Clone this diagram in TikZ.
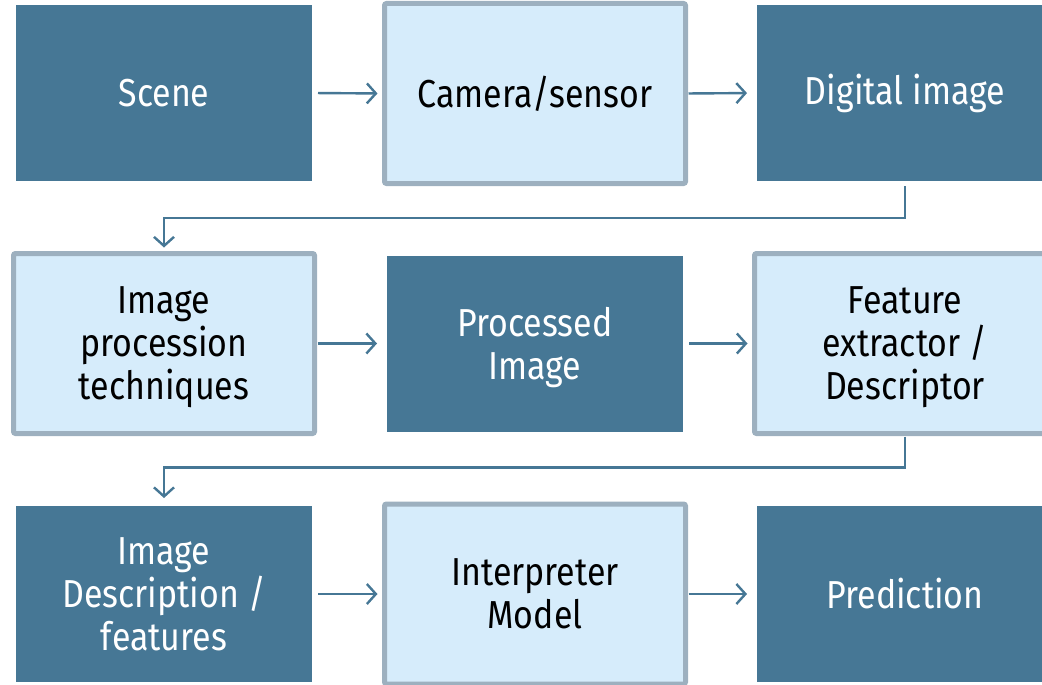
\documentclass[tikz,border=0pt]{standalone}
\usepackage{fontspec}
\setmainfont{Fira Sans}[FakeStretch=0.87]
\usetikzlibrary{arrows.meta}
\definecolor{dk}{HTML}{467795}
\definecolor{lt}{HTML}{D6ECFB}
\definecolor{bd}{HTML}{9DB0BF}
\begin{document}
\begin{tikzpicture}[x=1pt,y=-1pt,
  dark/.style={fill=dk,draw=none,minimum width=296pt,minimum height=176pt,inner sep=0pt,outer sep=0pt,text=white,align=center,font=\fontsize{39}{43}\selectfont},
  light/.style={fill=lt,draw=bd,line width=5pt,rounded corners=2pt,minimum width=301pt,minimum height=180pt,inner sep=0pt,outer sep=0pt,text=black,align=center,font=\fontsize{39}{43}\selectfont},
  nodepth/.style={text depth=0pt},
  arr/.style={draw=dk,line width=2.4pt,-{Straight Barb[length=9pt,width=20pt,line width=2.4pt]}},
  elb/.style={draw=dk,line width=2.4pt,-{Straight Barb[length=9pt,width=20pt,line width=2.4pt]},rounded corners=0pt}]
\useasboundingbox (0,0) rectangle (1042,685);
\begin{scope}
\clip (0,0) rectangle (1042,685);
\node[dark]  (scene) at (164,93) {Scene};
\node[light] (cam)   at (535,93.5) {Camera/sensor};
\node[dark]  (dig)   at (905,93) {Digital image};
\node[light,nodepth] (proc)  at (164,343.5) {Image\\procession\\techniques};
\node[dark,nodepth]  (pimg)  at (535,343.5) {Processed\\Image};
\node[light,nodepth] (feat)  at (905,343.5) {Feature\\extractor /\\Descriptor};
\node[dark]  (desc)  at (164,594) {Image\\Description /\\features};
\node[light] (interp) at (535,594) {Interpreter\\Model};
\node[dark]  (pred)  at (905,594) {Prediction};
\end{scope}
\draw[arr,shorten <=6pt,shorten >=7pt] (scene.east) -- (cam.west);
\draw[arr,shorten <=3pt,shorten >=10pt] (cam.east) -- (dig.west);
\draw[arr,shorten <=3pt,shorten >=10pt] (proc.east) -- (pimg.west);
\draw[arr,shorten <=6pt,shorten >=7pt] (pimg.east) -- (feat.west);
\draw[arr,shorten <=6pt,shorten >=7pt] (desc.east) -- (interp.west);
\draw[arr,shorten <=3pt,shorten >=10pt] (interp.east) -- (pred.west);
\draw[elb,shorten <=5pt,shorten >=6pt] (dig.south) -- ++(0,37) -| (proc.north);
\draw[elb,shorten <=3pt,shorten >=8pt] (feat.south) -- ++(0,34) -| (desc.north);
\end{tikzpicture}
\end{document}
